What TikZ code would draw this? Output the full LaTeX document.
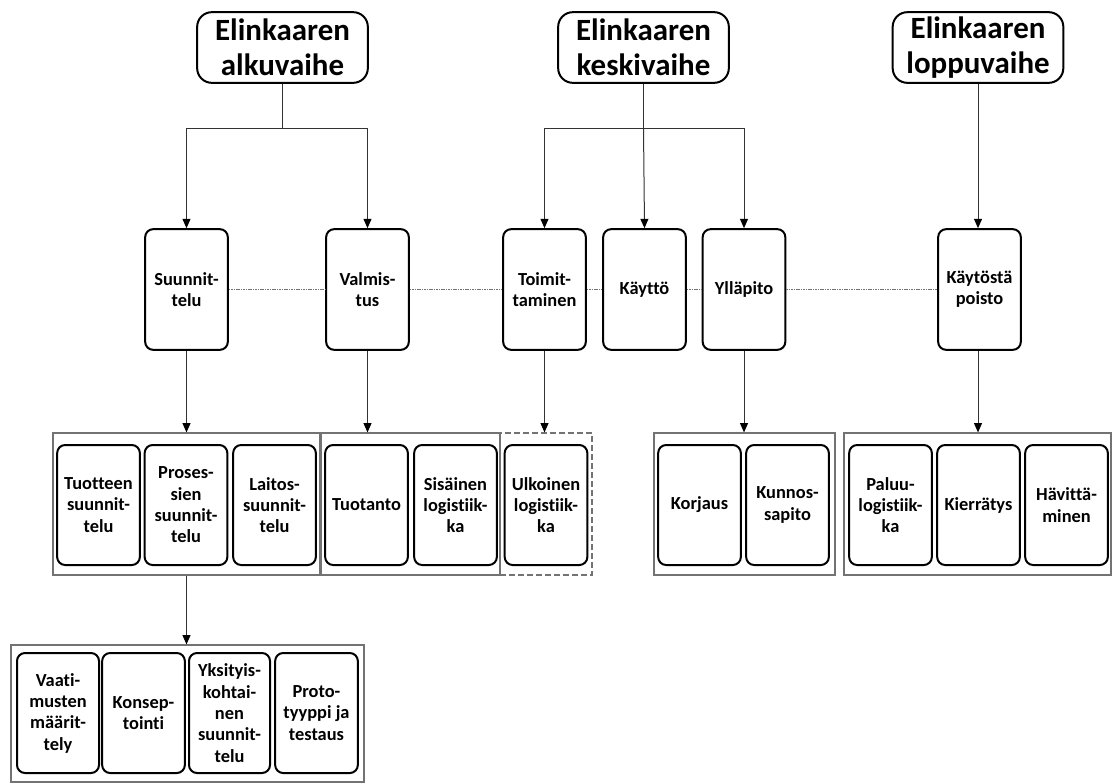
\documentclass[tikz,border=0pt]{standalone}
\usepackage{fontspec}
\setmainfont{Carlito}[Ligatures={NoCommon}]
\usetikzlibrary{arrows.meta}
\begin{document}
\begin{tikzpicture}[x=0.75pt,y=-0.75pt,
  hdr/.style={draw=black,line width=1.5pt,rounded corners=11pt,minimum width=128pt,minimum height=53pt,align=center,font=\fontsize{23.2}{26.5}\selectfont\bfseries,inner sep=0pt},
  mid/.style={draw=black,line width=1.5pt,rounded corners=6pt,minimum width=62pt,minimum height=90.5pt,align=center,font=\fontsize{13.8}{16}\selectfont\bfseries,inner sep=0pt},
  sub/.style={draw=black,line width=1.5pt,rounded corners=6pt,minimum width=62pt,minimum height=90pt,align=center,font=\fontsize{13.8}{16}\selectfont\bfseries,inner sep=0pt},
  grp/.style={draw=black!55,line width=0.9pt,inner sep=0pt},
  conn/.style={draw=black!80,line width=0.75pt},
  arr/.style={conn,-{Triangle[length=7pt,width=6pt,color=black]}},
  dot/.style={draw=black!55,line width=0.75pt,dash pattern=on 1.2pt off 0.6pt}
]
\useasboundingbox (0,0) rectangle (1112,783);
% header nodes
\node[hdr] (alku) at (282.5,47.5) {Elinkaaren\\alkuvaihe};
\node[hdr] (keski) at (643.5,47.5) {Elinkaaren\\keskivaihe};
\node[hdr] (loppu) at (978,47.5) {Elinkaaren\\loppuvaihe};
% middle row
\node[mid] (suun) at (186.5,289.5) {Suunnit-\\telu};
\node[mid] (valm) at (367.5,289.5) {Valmis-\\tus};
\node[mid] (toim) at (544.5,289.5) {Toimit-\\taminen};
\node[mid] (kayt) at (644.5,289.5) {Käyttö};
\node[mid] (yll) at (744,289.5) {Ylläpito};
\node[mid] (poist) at (979.5,289.5) {Käytöstä\\poisto};
% dotted links
\draw[dot] (suun.east) -- (valm.west);
\draw[dot] (valm.east) -- (toim.west);
\draw[dot] (toim.east) -- (kayt.west);
\draw[dot] (kayt.east) -- (yll.west);
\draw[dot] (yll.east) -- (poist.west);
% groups
\node[grp,draw=black!55,dash pattern=on 4.5pt off 2.25pt,minimum width=69pt,minimum height=106.5pt] (gd) at (546,504) {};
\node[grp,minimum width=200.25pt,minimum height=106.5pt] (g1) at (186.5,504) {};
\node[grp,minimum width=134.25pt,minimum height=106.5pt] (g2) at (410.5,504) {};
\node[grp,minimum width=135.75pt,minimum height=106.5pt] (g3) at (744.5,504) {};
\node[grp,minimum width=200.25pt,minimum height=106.5pt] (g4) at (977.5,504) {};
\node[grp,minimum width=264.75pt,minimum height=102.75pt] (g5) at (187.5,713.5) {};
% sub boxes
\node[sub] (tuot) at (98.5,505) {Tuotteen\\suunnit-\\telu};
\node[sub] (pros) at (186,505) {Proses-\\sien\\suunnit-\\telu};
\node[sub] (lait) at (274.5,505) {Laitos-\\suunnit-\\telu};
\node[sub] (tuota) at (366.5,505) {Tuotanto};
\node[sub] (sis) at (455.5,505) {Sisäinen\\logistiik-\\ka};
\node[sub] (ulk) at (546,505) {Ulkoinen\\logistiik-\\ka};
\node[sub] (korj) at (699.5,505) {Korjaus};
\node[sub] (kunn) at (787.5,505) {Kunnos-\\sapito};
\node[sub] (paluu) at (890.5,505) {Paluu-\\logistiik-\\ka};
\node[sub] (kierr) at (978.5,505) {Kierrätys};
\node[sub] (havit) at (1066.5,505) {Hävittä-\\minen};
\node[sub,minimum width=61.5pt] (vaati) at (58,713) {Vaati-\\musten\\määrit-\\tely};
\node[sub] (konsep) at (143.5,713) {Konsep-\\tointi};
\node[sub,minimum width=60.75pt] (yksit) at (229.5,713) {Yksityis-\\kohtai-\\nen\\suunnit-\\telu};
\node[sub] (proto) at (316.5,713) {Proto-\\tyyppi ja\\testaus};
% connectors from headers
\coordinate (ja) at (282.5,128);
\coordinate (jk) at (643.5,128);
\draw[conn] (alku.south) -- (ja);
\draw[arr] (ja) -| (suun.north);
\draw[arr] (ja) -| (valm.north);
\draw[conn] (keski.south) -- (jk);
\draw[arr] (jk) -| (toim.north);
\draw[arr] (jk) -- (kayt.north);
\draw[arr] (jk) -| (yll.north);
\draw[arr] (loppu.south) -- (loppu.south |- poist.north);
% connectors to groups
\draw[arr] (suun.south) -- (suun.south |- g1.north);
\draw[arr] (valm.south) -- (valm.south |- g2.north);
\draw[arr] (toim.south) -- (toim.south |- gd.north);
\draw[arr] (yll.south) -- (yll.south |- g3.north);
\draw[arr] (poist.south -| loppu.south) -- (loppu.south |- g4.north);
\draw[arr] (g1.south) -- (g5.north -| g1.south);
\end{tikzpicture}
\end{document}
